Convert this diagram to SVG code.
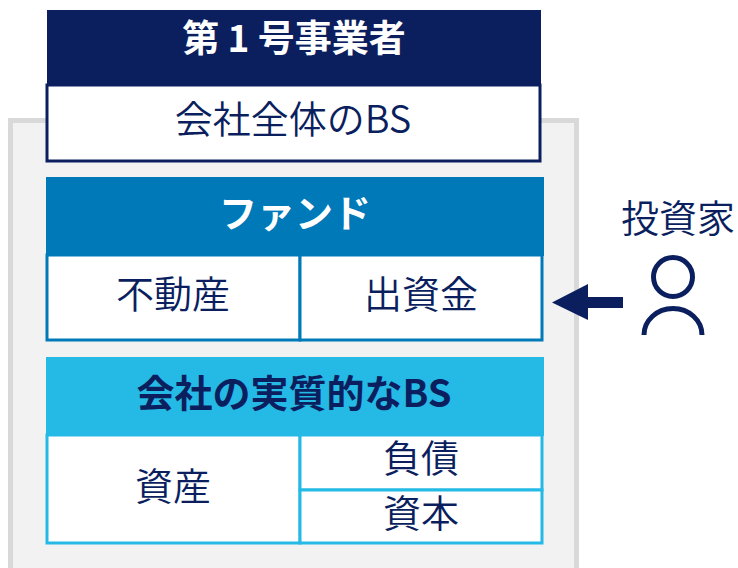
<svg xmlns="http://www.w3.org/2000/svg" width="738" height="568" viewBox="0 0 738 568">
<style>
text{font-family:"Noto Sans CJK JP","Noto Sans",sans-serif;text-anchor:middle;fill:#0b1f5f;font-size:38px;font-weight:350}
.b{font-weight:700}
.w{fill:#fff}
.c{fill:#fff;stroke-width:3}
.f{stroke:#0079b9}
.s{stroke:#25b9e6}
</style>
<rect width="738" height="568" fill="#fff"/>
<path d="M10.500 568V120.500H576.500V568" fill="#f2f2f2" stroke="#d9d9d9" stroke-width="5"/>
<g id="node-operator">
<rect x="47" y="10" width="494" height="76" fill="#0b1f5f"/>
<rect class="c" x="47" y="85" width="493" height="76" stroke="#0b1f5f"/>
<text class="b w" x="294" y="52" style="font-size:37px">第 1 号事業者</text>
<text x="293" y="133">会社全体のBS</text>
</g>
<g id="node-fund">
<rect x="46" y="177" width="498" height="79" fill="#0079b9"/>
<rect class="c f" x="47" y="255" width="253" height="85"/>
<rect class="c f" x="300" y="255" width="242" height="85"/>
<text class="b w" x="295" y="227">ファンド</text>
<text x="173" y="308">不動産</text>
<text x="421" y="308">出資金</text>
</g>
<g id="node-real-bs">
<rect x="46" y="357" width="498" height="79" fill="#25b9e6"/>
<rect class="c s" x="47" y="435" width="253" height="108"/>
<rect class="c s" x="300" y="435" width="242" height="55"/>
<rect class="c s" x="300" y="490" width="242" height="53"/>
<text class="b" x="294" y="407">会社の実質的なBS</text>
<text x="173" y="500">資産</text>
<text x="421" y="472">負債</text>
<text x="421" y="527">資本</text>
</g>
<g id="node-investor">
<text x="678" y="232">投資家</text>
<circle cx="673" cy="277" r="19.500" fill="none" stroke="#0b1f5f" stroke-width="5"/>
<path d="M644 335A29 26.500 0 0 1 702 335" fill="none" stroke="#0b1f5f" stroke-width="5"/>
</g>
<g id="connectors">
<path d="M552 302.500L588 284V297H623V308H588V320Z" fill="#0b1f5f"/>
</g>
</svg>
